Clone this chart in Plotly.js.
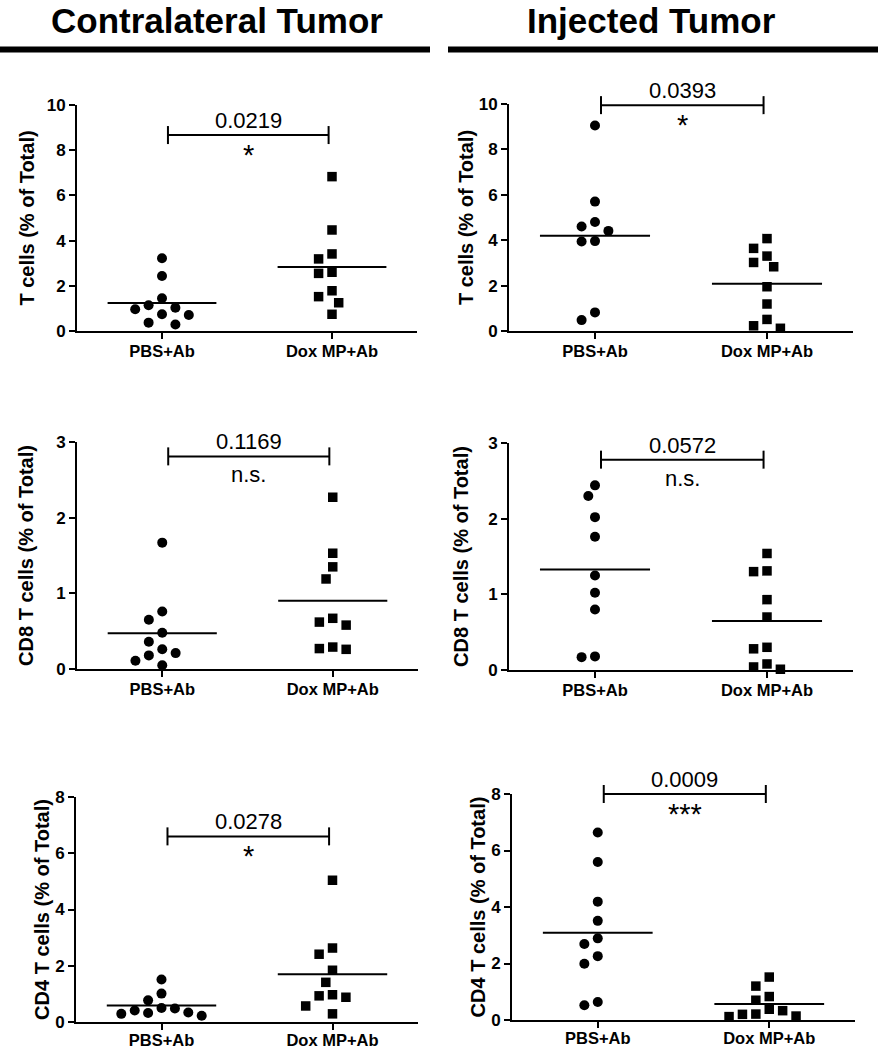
<!DOCTYPE html>
<html>
<head>
<meta charset="utf-8">
<script src="https://cdn.plot.ly/plotly-3.0.1.min.js"></script>
<style>html,body{margin:0;padding:0;background:#fff;}#chart{width:878px;height:1050px;}</style>
</head>
<body>
<div id="chart"></div>
<script>
// ---------- DATA ----------
const categories = ['PBS+Ab', 'Dox MP+Ab'];
const headers = ['Contralateral Tumor', 'Injected Tumor'];

const contraT_PBS   = [3.22, 2.43, 1.45, 1.14, 1.03, 0.96, 0.74, 0.71, 0.37, 0.29];
const contraT_Dox   = [6.83, 4.47, 3.41, 3.19, 2.60, 2.55, 1.78, 1.52, 1.25, 0.74];
const injT_PBS      = [9.05, 5.70, 4.80, 4.60, 4.41, 3.96, 3.94, 0.82, 0.48];
const injT_Dox      = [4.07, 3.64, 3.30, 3.02, 2.83, 1.95, 1.19, 0.51, 0.23, 0.12];
const contraCD8_PBS = [1.67, 0.76, 0.65, 0.48, 0.36, 0.26, 0.21, 0.18, 0.11, 0.05];
const contraCD8_Dox = [2.27, 1.53, 1.35, 1.19, 0.67, 0.62, 0.58, 0.29, 0.27, 0.26];
const injCD8_PBS    = [2.44, 2.30, 2.02, 1.76, 1.25, 1.02, 0.80, 0.18, 0.17];
const injCD8_Dox    = [1.54, 1.31, 1.30, 0.93, 0.70, 0.30, 0.28, 0.08, 0.04, 0.01];
const contraCD4_PBS = [1.51, 1.01, 0.77, 0.50, 0.48, 0.41, 0.34, 0.32, 0.29, 0.22];
const contraCD4_Dox = [5.04, 2.63, 2.41, 1.84, 1.41, 0.97, 0.93, 0.88, 0.57, 0.29];
const injCD4_PBS    = [6.64, 5.59, 4.19, 3.51, 2.89, 2.69, 2.26, 1.99, 0.64, 0.52];
const injCD4_Dox    = [1.52, 1.20, 0.83, 0.70, 0.38, 0.33, 0.21, 0.20, 0.14, 0.12];

const yTitles  = ['T cells (% of Total)', 'T cells (% of Total)',
                  'CD8 T cells (% of Total)', 'CD8 T cells (% of Total)',
                  'CD4 T cells (% of Total)', 'CD4 T cells (% of Total)'];
const yMax     = [10, 10, 3, 3, 8, 8];
const yDtick   = [2, 2, 1, 1, 2, 2];
const pValues  = ['0.0219', '0.0393', '0.1169', '0.0572', '0.0278', '0.0009'];
const sigMarks = ['*', '*', 'n.s.', 'n.s.', '*', '***'];
const bracketY = [8.67, 9.95, 2.81, 2.78, 6.60, 8.0];

const groups = [
  [contraT_PBS, contraT_Dox], [injT_PBS, injT_Dox],
  [contraCD8_PBS, contraCD8_Dox], [injCD8_PBS, injCD8_Dox],
  [contraCD4_PBS, contraCD4_Dox], [injCD4_PBS, injCD4_Dox]
];

// ---------- LAYOUT GEOMETRY (pixels) ----------
const W = 878, H = 1050;
const boxes = [ // [left, right, top, bottom] of each plot area in px
  [77, 417, 105, 331], [509, 853, 104, 331],
  [77, 418, 442, 669], [509, 853, 443, 670],
  [76, 418, 797, 1022], [512, 855, 794, 1020]
];
const titleStandoff = [7, 0, 17, 14, 0, 0];
const xLabelStandoff = [-2, -2, -2, -2, -4, -4];

const FONT = 'Liberation Sans, Arial, Helvetica, sans-serif';
const MARK = 10, SQ = 9.5, STEP = 6.7, MINDIST = 12.5;

function mean(a) { return a.reduce((s, v) => s + v, 0) / a.length; }

// simple column-scatter (beeswarm) layout in pixel space
function swarm(values, center, pxPerX, pxPerY) {
  const order = values.map((v, i) => i).sort((a, b) => values[b] - values[a]);
  const placed = [];
  const xs = new Array(values.length);
  order.forEach(i => {
    const py = values[i] * pxPerY;
    let off = 0;
    for (let k = 0; k < 40; k++) {
      const cands = k === 0 ? [0] : [-k * STEP, k * STEP];
      let found = null;
      for (const c of cands) {
        if (placed.every(p => (p[0] - c) ** 2 + (p[1] - py) ** 2 >= MINDIST * MINDIST)) { found = c; break; }
      }
      if (found !== null) { off = found; break; }
    }
    placed.push([off, py]);
    xs[i] = center + off / pxPerX;
  });
  return xs;
}

const traces = [];
const layout = {
  width: W, height: H,
  margin: {l: 0, r: 0, t: 0, b: 0},
  paper_bgcolor: '#fff', plot_bgcolor: '#fff',
  showlegend: false,
  font: {family: FONT, color: '#000'},
  shapes: [], annotations: []
};

groups.forEach((g, p) => {
  const n = p + 1;
  const xa = 'x' + (n === 1 ? '' : n), ya = 'y' + (n === 1 ? '' : n);
  const xk = 'xaxis' + (n === 1 ? '' : n), yk = 'yaxis' + (n === 1 ? '' : n);
  const [l, r, t, b] = boxes[p];
  const pxPerX = (r - l) / 2, pxPerY = (b - t) / yMax[p];
  // data -> paper mapping through this subplot's axes
  const xp = v => (l + (v + 0.5) * pxPerX) / W;
  const yp = v => 1 - (b - v * pxPerY) / H;

  layout[xk] = {
    domain: [l / W, r / W], range: [-0.5, 1.5], anchor: ya,
    tickvals: [0, 1], ticktext: categories,
    ticks: 'outside', ticklen: 6, tickwidth: 2, tickcolor: '#000',
    ticklabelstandoff: xLabelStandoff[p],
    showline: true, linewidth: 2, linecolor: '#000',
    showgrid: false, zeroline: false, fixedrange: true,
    tickfont: {family: FONT, size: 16.5, weight: 'bold', color: '#000'}
  };
  layout[yk] = {
    domain: [1 - b / H, 1 - t / H], range: [0, yMax[p]], anchor: xa,
    dtick: yDtick[p], tick0: 0,
    ticks: 'outside', ticklen: 6, tickwidth: 2, tickcolor: '#000',
    showline: true, linewidth: 2, linecolor: '#000',
    showgrid: false, zeroline: false, fixedrange: true,
    tickfont: {family: FONT, size: 17, weight: 'bold', color: '#000'},
    title: {text: yTitles[p], standoff: titleStandoff[p],
            font: {family: FONT, size: 20, weight: 'bold', color: '#000'}}
  };

  g.forEach((vals, c) => {
    traces.push({
      type: 'scatter', mode: 'markers', xaxis: xa, yaxis: ya, cliponaxis: false,
      x: swarm(vals, c, pxPerX, pxPerY), y: vals,
      name: categories[c],
      marker: {symbol: c === 0 ? 'circle' : 'square', size: c === 0 ? MARK : SQ, color: '#000'},
      hoverinfo: 'y'
    });
    const m = mean(vals);
    traces.push({
      type: 'scatter', mode: 'lines', xaxis: xa, yaxis: ya, cliponaxis: false,
      x: [c - 0.32, c + 0.32], y: [m, m],
      line: {color: '#000', width: 2}, hoverinfo: 'skip'
    });
  });

  // significance bracket (paper coords derived from the data values)
  const bx0 = 0.035, bx1 = 0.98, by = bracketY[p];
  layout.shapes.push({type: 'line', xref: 'paper', yref: 'paper',
                      x0: xp(bx0), x1: xp(bx1), y0: yp(by), y1: yp(by),
                      line: {color: '#000', width: 2}});
  [bx0, bx1].forEach(bx => layout.shapes.push({
    type: 'line', xref: 'paper', yref: 'paper', ysizemode: 'pixel', yanchor: yp(by),
    x0: xp(bx), x1: xp(bx), y0: -9, y1: 9, line: {color: '#000', width: 2}
  }));
  layout.annotations.push({
    xref: 'paper', yref: 'paper', x: xp((bx0 + bx1) / 2), y: yp(by), text: pValues[p], showarrow: false,
    xanchor: 'center', yanchor: 'bottom', yshift: 0,
    font: {family: FONT, size: 22, color: '#000'}
  });
  layout.annotations.push({
    xref: 'paper', yref: 'paper', x: xp((bx0 + bx1) / 2), y: yp(by), text: sigMarks[p], showarrow: false,
    xanchor: 'center', yanchor: 'top', yshift: sigMarks[p] === 'n.s.' ? -4 : -2,
    font: {family: FONT, size: sigMarks[p] === 'n.s.' ? 22 : 29, color: '#000'}
  });
});

// column headers and rules
const headerX = [217, 651];
headers.forEach((h, i) => {
  layout.annotations.push({
    xref: 'paper', yref: 'paper', x: headerX[i] / W, y: 1, text: h, showarrow: false,
    xanchor: 'center', yanchor: 'top', borderpad: 0,
    font: {family: FONT, size: 35, weight: 'bold', color: '#000'}
  });
});
layout.shapes.push({type: 'line', xref: 'paper', yref: 'paper', x0: 0, x1: 430 / W,
                    y0: 1 - 49.5 / H, y1: 1 - 49.5 / H, line: {color: '#000', width: 6}});
layout.shapes.push({type: 'line', xref: 'paper', yref: 'paper', x0: 448 / W, x1: 1,
                    y0: 1 - 49.5 / H, y1: 1 - 49.5 / H, line: {color: '#000', width: 6}});

Plotly.newPlot('chart', traces, layout, {staticPlot: true, displayModeBar: false});
</script>
</body>
</html>
